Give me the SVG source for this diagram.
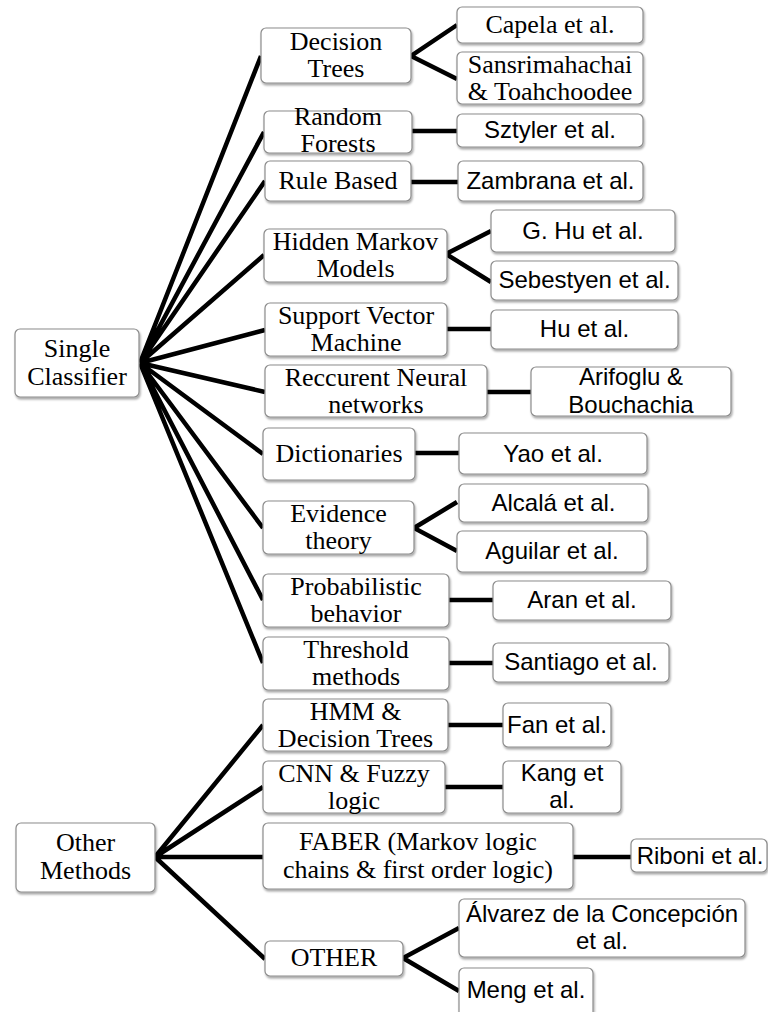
<svg xmlns="http://www.w3.org/2000/svg" width="768" height="1012" viewBox="0 0 768 1012">
<defs>
<filter id="sh" x="-10%" y="-20%" width="130%" height="150%">
<feDropShadow dx="1" dy="2" stdDeviation="1.3" flood-color="#000" flood-opacity="0.35"/>
</filter>
</defs>
<style>
rect{fill:#fff;stroke:#8c8c8c;stroke-width:1.2;filter:url(#sh)}
.s{font-family:"Liberation Serif","Times New Roman",serif;font-size:26px;fill:#000;text-anchor:middle}
.a{font-family:"Liberation Sans",Arial,sans-serif;font-size:24px;fill:#000;text-anchor:middle}
#connectors path{stroke:#000;stroke-width:4.5;fill:none;stroke-linejoin:miter}
</style>
<rect x="0" y="0" width="768" height="1012" style="fill:#fff;stroke:none;filter:none"/>
<g id="connectors">
<path d="M140,363 L261,56 M140,363 L264,132 M140,363 L265,181 M140,363 L264,255 M140,363 L265,330 M140,363 L265,392 M140,363 L263,454 M140,363 L263,528 M140,363 L263,600 M140,363 L263,663"/>
<path d="M155,857 L263,725 M155,857 L263,787 M155,857 L263,857 M155,857 L265,959"/>
<path d="M457,25 L411,56 L457,79"/>
<path d="M412,131 L457,131"/>
<path d="M411,182 L458,182"/>
<path d="M491,231 L446,254 L491,282"/>
<path d="M447,329 L491,329"/>
<path d="M487,392 L531,392"/>
<path d="M415,453 L459,453"/>
<path d="M457,502 L414,528 L457,551"/>
<path d="M449,600 L493,600"/>
<path d="M449,663 L493,663"/>
<path d="M448,725 L503,725"/>
<path d="M445,787 L503,787"/>
<path d="M573,857 L631,857"/>
<path d="M459,928 L403,958 L459,991"/>
</g>
<g id="single-classifier"><rect x="15" y="329" width="124" height="68" rx="5"/><text class="s" x="77" y="357">Single</text><text class="s" x="77" y="385">Classifier</text></g>
<g id="other-methods"><rect x="16" y="823" width="139" height="69" rx="5"/><text class="s" x="85.5" y="851">Other</text><text class="s" x="85.5" y="879">Methods</text></g>

<g id="decision-trees"><rect x="261" y="28" width="150" height="55" rx="5"/><text class="s" x="336" y="50">Decision</text><text class="s" x="336" y="77">Trees</text></g>
<g id="random-forests"><rect x="264" y="111" width="148" height="42" rx="5"/><text class="s" x="338" y="125">Random</text><text class="s" x="338" y="152">Forests</text></g>
<g id="rule-based"><rect x="265" y="161" width="146" height="40" rx="5"/><text class="s" x="338" y="189">Rule Based</text></g>
<g id="hidden-markov"><rect x="264" y="229" width="183" height="53" rx="5"/><text class="s" x="355.5" y="250">Hidden Markov</text><text class="s" x="355.5" y="277">Models</text></g>
<g id="svm"><rect x="265" y="303" width="182" height="53" rx="5"/><text class="s" x="356" y="324">Support Vector</text><text class="s" x="356" y="351">Machine</text></g>
<g id="rnn"><rect x="265" y="365" width="222" height="52" rx="5"/><text class="s" x="376" y="386">Reccurent Neural</text><text class="s" x="376" y="413">networks</text></g>
<g id="dictionaries"><rect x="263" y="428" width="152" height="52" rx="5"/><text class="s" x="339" y="462">Dictionaries</text></g>
<g id="evidence-theory"><rect x="263" y="501" width="151" height="53" rx="5"/><text class="s" x="338.5" y="522">Evidence</text><text class="s" x="338.5" y="549">theory</text></g>
<g id="probabilistic"><rect x="263" y="574" width="186" height="53" rx="5"/><text class="s" x="356" y="595">Probabilistic</text><text class="s" x="356" y="622">behavior</text></g>
<g id="threshold"><rect x="263" y="637" width="186" height="53" rx="5"/><text class="s" x="356" y="658">Threshold</text><text class="s" x="356" y="685">methods</text></g>
<g id="hmm-dt"><rect x="263" y="699" width="185" height="52" rx="5"/><text class="s" x="355.5" y="720">HMM &amp;</text><text class="s" x="355.5" y="747">Decision Trees</text></g>
<g id="cnn-fuzzy"><rect x="263" y="761" width="182" height="52" rx="5"/><text class="s" x="354" y="782">CNN &amp; Fuzzy</text><text class="s" x="354" y="809">logic</text></g>
<g id="faber"><rect x="263" y="823" width="310" height="66" rx="5"/><text class="s" x="418" y="850">FABER (Markov logic</text><text class="s" x="418" y="878">chains &amp; first order logic)</text></g>
<g id="other"><rect x="265" y="941" width="138" height="35" rx="5"/><text class="s" x="334" y="966">OTHER</text></g>

<g id="capela"><rect x="457" y="7" width="186" height="36" rx="5"/><text class="s" x="550" y="33">Capela et al.</text></g>
<g id="sansrimahachai"><rect x="457" y="52" width="186" height="52" rx="5"/><text class="s" x="550" y="73">Sansrimahachai</text><text class="s" x="550" y="100">&amp; Toahchoodee</text></g>
<g id="sztyler"><rect x="457" y="114" width="186" height="33" rx="5"/><text class="a" x="550" y="138">Sztyler et al.</text></g>
<g id="zambrana"><rect x="458" y="161" width="185" height="40" rx="5"/><text class="a" x="550.5" y="189">Zambrana et al.</text></g>
<g id="g-hu"><rect x="491" y="210" width="184" height="42" rx="5"/><text class="a" x="583" y="239">G. Hu et al.</text></g>
<g id="sebestyen"><rect x="491" y="261" width="187" height="39" rx="5"/><text class="a" x="584.5" y="288">Sebestyen et al.</text></g>
<g id="hu"><rect x="491" y="310" width="187" height="39" rx="5"/><text class="a" x="584.5" y="337">Hu et al.</text></g>
<g id="arifoglu"><rect x="531" y="367" width="200" height="49" rx="5"/><text class="a" x="631" y="385">Arifoglu &amp;</text><text class="a" x="631" y="413">Bouchachia</text></g>
<g id="yao"><rect x="459" y="433" width="188" height="41" rx="5"/><text class="a" x="553" y="462">Yao et al.</text></g>
<g id="alcala"><rect x="459" y="484" width="189" height="38" rx="5"/><text class="a" x="553.5" y="511">Alcalá et al.</text></g>
<g id="aguilar"><rect x="457" y="531" width="190" height="41" rx="5"/><text class="a" x="552" y="559">Aguilar et al.</text></g>
<g id="aran"><rect x="493" y="581" width="178" height="39" rx="5"/><text class="a" x="582" y="608">Aran et al.</text></g>
<g id="santiago"><rect x="493" y="643" width="176" height="39" rx="5"/><text class="a" x="581" y="670">Santiago et al.</text></g>
<g id="fan"><rect x="503" y="703" width="108" height="44" rx="5"/><text class="a" x="557" y="733">Fan et al.</text></g>
<g id="kang"><rect x="503" y="761" width="118" height="52" rx="5"/><text class="a" x="562" y="781">Kang et</text><text class="a" x="562" y="808">al.</text></g>
<g id="riboni"><rect x="631" y="839" width="136" height="33" rx="5"/><text class="a" x="700" y="864">Riboni et al.</text></g>
<g id="alvarez"><rect x="459" y="899" width="286" height="58" rx="5"/><text class="a" x="602" y="922">Álvarez de la Concepción</text><text class="a" x="602" y="949">et al.</text></g>
<g id="meng"><rect x="459" y="968" width="134" height="52" rx="5"/><text class="a" x="526" y="998">Meng et al.</text></g>
</svg>
